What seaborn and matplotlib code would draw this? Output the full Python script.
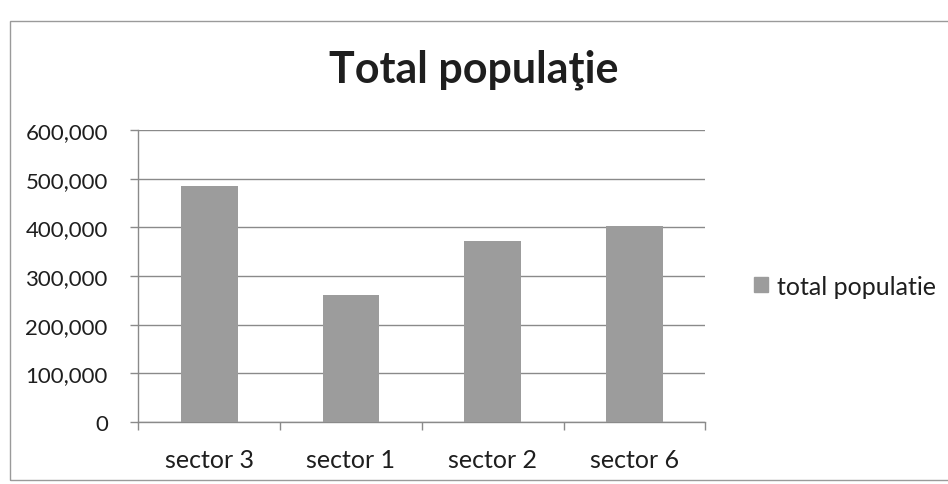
import pandas as pd
import matplotlib
matplotlib.use("Agg")
import matplotlib.pyplot as plt
from matplotlib.patches import Patch, Rectangle
from matplotlib.ticker import FuncFormatter, FixedLocator
import seaborn as sns

# data
sectors = ['sector 3', 'sector 1', 'sector 2', 'sector 6']
population = [484000, 261000, 371000, 403000]
y_ticks = [0, 100000, 200000, 300000, 400000, 500000, 600000]
series_name = 'total populatie'
title = 'Total populaţie'

BAR_GREY = '#9c9c9c'
GRID_GREY = '#8a8a8a'
TEXT = '#1e1e1e'


def set_plot_style() -> None:
    """
    Excel-like look: white background, no spines except left/bottom
    """
    sns.set_theme(style='white')
    plt.rcParams['font.family'] = ['Lato', 'DejaVu Sans']


def plot_population(df: pd.DataFrame) -> None:
    set_plot_style()

    fig = plt.figure(figsize=(9.48, 4.85), dpi=100)
    ax = fig.add_axes([0.146, 0.128, 0.598, 0.602])

    sns.barplot(data=df, x='sector', y='population', color=BAR_GREY,
                width=0.4, saturation=1, ax=ax, zorder=3)
    for patch in ax.patches:
        patch.set_edgecolor('none')

    ax.set_xlim(-0.5, len(sectors) - 0.5)
    ax.set_ylim(y_ticks[0], y_ticks[-1])
    ax.set_yticks(y_ticks)
    ax.yaxis.set_major_formatter(FuncFormatter(lambda v, _: f'{int(v):,}'))
    ax.grid(axis='y', color=GRID_GREY, linewidth=1.0, zorder=0)
    ax.set_xlabel('')
    ax.set_ylabel('')

    for side in ['top', 'right']:
        ax.spines[side].set_visible(False)
    for side in ['left', 'bottom']:
        ax.spines[side].set_color(GRID_GREY)
        ax.spines[side].set_linewidth(1.0)

    # category boundary ticks like Excel
    ax.xaxis.set_minor_locator(FixedLocator([i - 0.5 for i in range(len(sectors) + 1)]))
    ax.tick_params(axis='x', which='major', length=0, pad=19, labelsize=18, colors=TEXT)
    ax.tick_params(axis='x', which='minor', length=6, width=1, color=GRID_GREY,
                   direction='out', bottom=True)
    ax.tick_params(axis='y', which='major', length=6, width=1, color=GRID_GREY,
                   direction='out', left=True, pad=16, labelsize=16, labelcolor=TEXT)

    fig.text(0.5, 0.829, title, ha='center', va='baseline', fontsize=31,
             fontweight='bold', color=TEXT)

    fig.legend(handles=[Patch(color=BAR_GREY, label=series_name)],
               loc='center left', bbox_to_anchor=(0.772, 0.408), frameon=False,
               fontsize=18, handlelength=0.55, handleheight=0.55, handletextpad=0.35,
               labelcolor=TEXT)

    # outer chart border (right edge runs off the scan)
    fig.patches.append(Rectangle((10 / 948, 4 / 485), 1.0, 459 / 485,
                                 transform=fig.transFigure, fill=False,
                                 edgecolor='#9a9a9a', linewidth=1.0))

    fig.savefig('out.png', dpi=100)


if __name__ == '__main__':
    df = pd.DataFrame({'sector': sectors, 'population': population})
    plot_population(df)
